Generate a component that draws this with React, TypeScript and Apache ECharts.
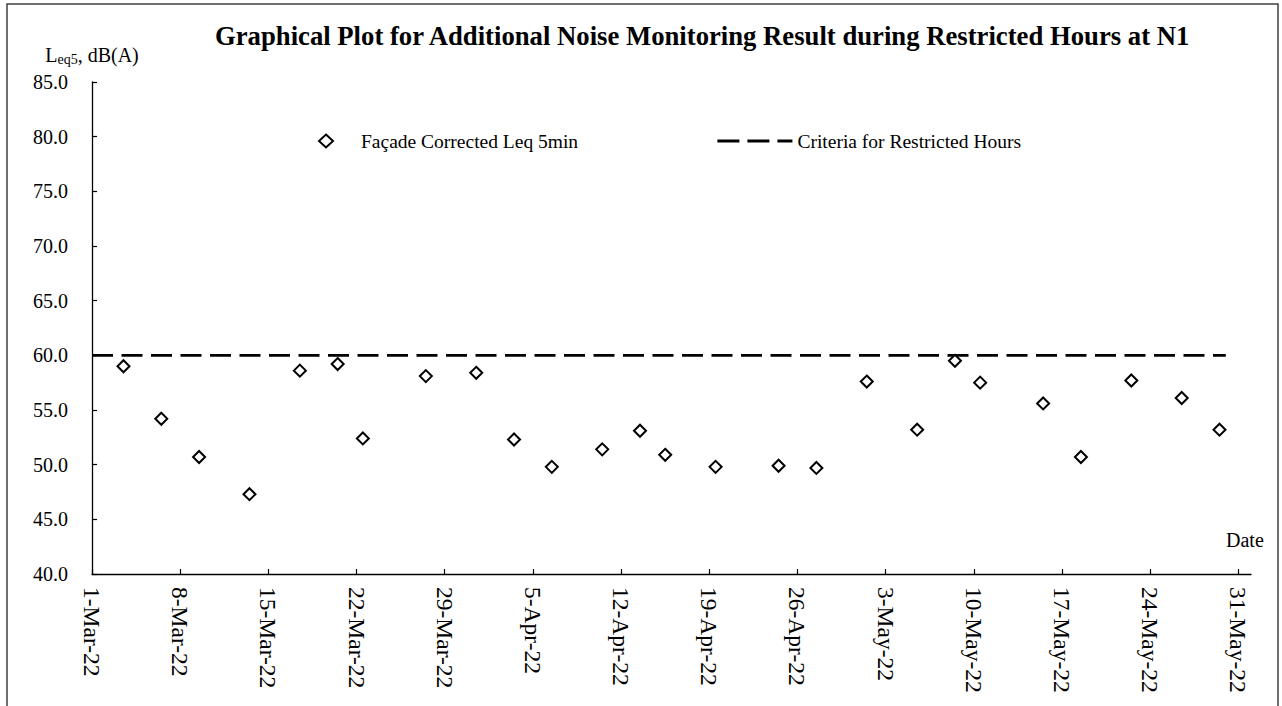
import React, { useEffect, useRef } from 'react';
import * as echarts from 'echarts';

const axisStartDate = '2022-03-01';
const axisEndDate = '2022-06-01';

const pointDates = [
  '2022-03-03', '2022-03-06', '2022-03-09', '2022-03-13', '2022-03-17', '2022-03-20',
  '2022-03-22', '2022-03-27', '2022-03-31', '2022-04-03', '2022-04-06', '2022-04-10',
  '2022-04-13', '2022-04-15', '2022-04-19', '2022-04-24', '2022-04-27', '2022-05-01',
  '2022-05-05', '2022-05-08', '2022-05-10', '2022-05-15', '2022-05-18', '2022-05-22',
  '2022-05-26', '2022-05-29',
];
const pointValues = [
  59.0, 54.2, 50.7, 47.3, 58.6, 59.2,
  52.4, 58.1, 58.4, 52.3, 49.8, 51.4,
  53.1, 50.9, 49.8, 49.9, 49.7, 57.6,
  53.2, 59.5, 57.5, 55.6, 50.7, 57.7,
  56.1, 53.2,
];

const criteriaDates = ['2022-03-01', '2022-05-30'];
const criteriaValues = [60, 60];

const xTickDates = [
  '2022-03-01', '2022-03-08', '2022-03-15', '2022-03-22', '2022-03-29', '2022-04-05',
  '2022-04-12', '2022-04-19', '2022-04-26', '2022-05-03', '2022-05-10', '2022-05-17',
  '2022-05-24', '2022-05-31',
];
const xTickLabels = [
  '1-Mar-22', '8-Mar-22', '15-Mar-22', '22-Mar-22', '29-Mar-22', '5-Apr-22',
  '12-Apr-22', '19-Apr-22', '26-Apr-22', '3-May-22', '10-May-22', '17-May-22',
  '24-May-22', '31-May-22',
];

const yMin = 40;
const yMax = 85;
const yStep = 5;

const seriesNames = ['Façade Corrected Leq 5min', 'Criteria for Restricted Hours'];
const titleText = 'Graphical Plot for Additional Noise Monitoring Result during Restricted Hours at N1';

const FONT = '"Liberation Serif", "Times New Roman", serif';

const dayIndex = (d: string) => (Date.parse(d) - Date.parse(axisStartDate)) / 86400000;

export default function App() {
  const ref = useRef<HTMLDivElement>(null);

  useEffect(() => {
    if (!ref.current) return;
    const chart = echarts.init(ref.current, undefined, { renderer: 'svg' });
    const tickDays = xTickDates.map(dayIndex);
    const scatterData = pointDates.map((d, i) => [dayIndex(d) + 0.5, pointValues[i]]);
    const criteriaData = criteriaDates.map((d, i) => [dayIndex(d), criteriaValues[i]]);

    chart.setOption({
      animation: false,
      backgroundColor: '#ffffff',
      textStyle: { fontFamily: FONT, color: '#000' },
      title: {
        text: titleText,
        left: 210,
        top: 17,
        textStyle: { fontFamily: FONT, fontWeight: 'bold', fontSize: 26.7, color: '#000' },
      },
      legend: [
        {
          data: [{ name: seriesNames[0], icon: 'diamond' }],
          left: 313,
          top: 126,
          itemWidth: 14,
          itemHeight: 13,
          textStyle: { fontFamily: FONT, fontSize: 19.5, color: '#000', padding: [0, 0, 0, 23] },
          selectedMode: false,
        },
        {
          data: [{ name: seriesNames[1] }],
          left: 711,
          top: 126,
          itemWidth: 75,
          itemHeight: 13,
          itemStyle: { opacity: 0 },
          lineStyle: { color: '#000', width: 2.8, type: [22, 8] },
          textStyle: { fontFamily: FONT, fontSize: 19.5, color: '#000' },
          selectedMode: false,
        },
      ],
      grid: { left: 92, top: 82, width: 1159, height: 492, containLabel: false },
      xAxis: {
        type: 'value',
        min: dayIndex(axisStartDate),
        max: dayIndex(axisEndDate),
        splitLine: { show: false },
        axisLine: { show: true, onZero: false, lineStyle: { color: '#000', width: 1.3 } },
        axisTick: { show: true, inside: true, length: 5, customValues: tickDays, lineStyle: { color: '#000', width: 1.2 } },
        axisLabel: {
          customValues: tickDays,
          rotate: -90,
          margin: 13,
          fontFamily: FONT,
          fontSize: 23.5,
          color: '#000',
          verticalAlign: 'middle',
          padding: [0, 0, 18, 0],
          formatter: (v: number) => {
            const i = tickDays.findIndex((t) => Math.abs(t - v) < 1e-6);
            return i >= 0 ? xTickLabels[i] : '';
          },
        },
      },
      yAxis: {
        type: 'value',
        min: yMin,
        max: yMax,
        interval: yStep,
        name: '{a|L}{b|eq5}{a|, dB(A)}',
        nameLocation: 'end',
        nameGap: 16,
        nameTextStyle: {
          rich: {
            a: { fontFamily: FONT, fontSize: 20, color: '#000' },
            b: { fontFamily: FONT, fontSize: 14, color: '#000', padding: [8, 0, 0, 0] },
          },
        },
        splitLine: { show: false },
        axisLine: { show: true, lineStyle: { color: '#000', width: 1.3 } },
        axisTick: { show: true, inside: true, length: 5, lineStyle: { color: '#000', width: 1.2 } },
        axisLabel: {
          margin: 24,
          fontFamily: FONT,
          fontSize: 20,
          color: '#000',
          formatter: (v: number) => v.toFixed(1),
        },
      },
      graphic: [
        {
          type: 'rect',
          shape: { x: 7, y: 4, width: 1271, height: 740 },
          style: { fill: 'none', stroke: '#404040', lineWidth: 1.5 },
          silent: true,
        },
        {
          type: 'text',
          x: 1226,
          y: 540,
          style: {
            text: 'Date',
            fontFamily: FONT,
            fontSize: 20,
            fill: '#000',
            verticalAlign: 'middle',
            align: 'left',
          },
        },
      ],
      series: [
        {
          name: seriesNames[1],
          type: 'line',
          data: criteriaData,
          symbol: 'none',
          showSymbol: false,
          lineStyle: { color: '#000', width: 2.6, type: [21, 8.5] },
          itemStyle: { color: '#000' },
          z: 2,
        },
        {
          name: seriesNames[0],
          type: 'scatter',
          data: scatterData,
          symbol: 'diamond',
          symbolSize: [12, 12],
          itemStyle: { color: '#fff', borderColor: '#000', borderWidth: 2, opacity: 1 },
          z: 3,
        },
      ],
    });
    return () => chart.dispose();
  }, []);

  return (
    <div
      ref={ref}
      style={{ position: 'absolute', left: 0, top: 0, width: 1282, height: 706 }}
    />
  );
}
